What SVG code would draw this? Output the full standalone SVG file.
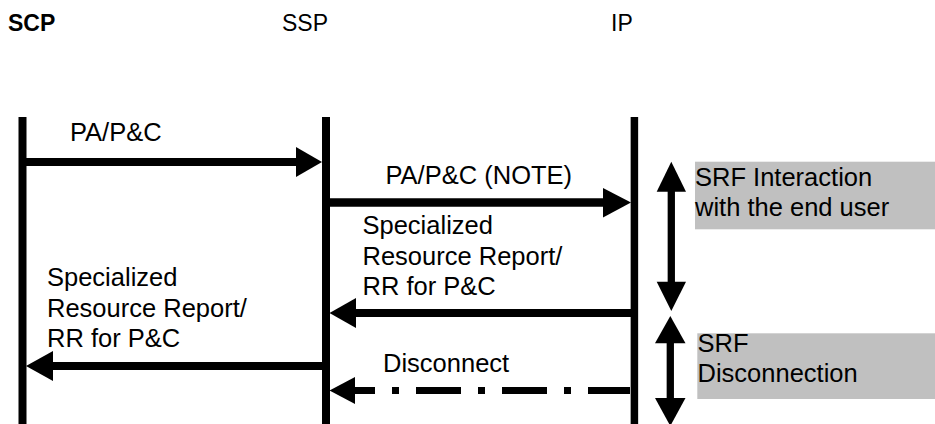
<svg xmlns="http://www.w3.org/2000/svg" width="935" height="424" viewBox="0 0 935 424">
  <style>
    .hdr { font-family: "Liberation Sans", Arial, sans-serif; font-size: 23px; fill: #000; }
    .bold { font-weight: bold; }
    .lbl { font-family: "Liberation Sans", Arial, sans-serif; font-size: 25.5px; fill: #000; }
    .life { stroke: #000; stroke-width: 8; fill: none; }
    .msg { stroke: #000; stroke-width: 8; fill: none; }
    .dash { stroke-dasharray: 45 17 7 17; stroke-dashoffset: 3; stroke-width: 7; }
    .head { fill: #000; stroke: none; }
    .box { fill: #c0c0c0; stroke: none; }
  </style>

  <!-- Entities with their lifelines -->
  <g id="scp">
    <text class="hdr bold" x="8" y="31">SCP</text>
    <line class="life" x1="22.5" y1="117" x2="22.5" y2="424"/>
  </g>
  <g id="ssp">
    <text class="hdr" x="282" y="31">SSP</text>
    <line class="life" x1="326" y1="117" x2="326" y2="424"/>
  </g>
  <g id="ip">
    <text class="hdr" x="611" y="31">IP</text>
    <line class="life" x1="634.4" y1="117" x2="634.4" y2="424" style="stroke-width:7.5"/>
  </g>

  <!-- Messages between the entities -->
  <g id="connectors">
    <!-- PA/P&C : SCP -> SSP -->
    <line class="msg" x1="26" y1="162" x2="298" y2="162"/>
    <polygon class="head" points="296,147 322,162 296,177"/>
    <text class="lbl" x="70" y="141">PA/P&amp;C</text>

    <!-- PA/P&C (NOTE) : SSP -> IP -->
    <line class="msg" x1="330" y1="202.5" x2="605" y2="202.5" style="stroke-width:8.5"/>
    <polygon class="head" points="603,188 631,202.5 603,217.5"/>
    <text class="lbl" x="385.5" y="184">PA/P&amp;C (NOTE)</text>

    <!-- Specialized Resource Report : IP -> SSP -->
    <line class="msg" x1="631" y1="313" x2="354" y2="313"/>
    <polygon class="head" points="356,298 329.5,313 356,328"/>
    <text class="lbl" x="362.5" y="233.5">Specialized</text>
    <text class="lbl" x="362.5" y="264.5">Resource Report/</text>
    <text class="lbl" x="362.5" y="295">RR for P&amp;C</text>

    <!-- Specialized Resource Report : SSP -> SCP -->
    <line class="msg" x1="322" y1="366" x2="51" y2="366"/>
    <polygon class="head" points="53,351 26,366 53,381"/>
    <text class="lbl" x="47" y="286">Specialized</text>
    <text class="lbl" x="47" y="316.5">Resource Report/</text>
    <text class="lbl" x="47" y="347">RR for P&amp;C</text>

    <!-- Disconnect : IP -> SSP (dash-dot) -->
    <line class="msg dash" x1="630" y1="390.5" x2="355" y2="390.5"/>
    <polygon class="head" points="355,377 329.5,390.5 355,404"/>
    <text class="lbl" x="383" y="372">Disconnect</text>
  </g>

  <!-- SRF phase annotations -->
  <g id="srf-interaction">
    <line stroke="#000" stroke-width="7.3" x1="671.3" y1="190" x2="671.3" y2="283"/>
    <polygon class="head" points="656.7,191.7 671.3,161.7 686,191.7"/>
    <polygon class="head" points="656.7,281.7 671.3,311 686,281.7"/>
    <rect class="box" x="695" y="161.7" width="240" height="67.6"/>
    <text class="lbl" x="695" y="186">SRF Interaction</text>
    <text class="lbl" x="695" y="216">with the end user</text>
  </g>
  <g id="srf-disconnection">
    <line stroke="#000" stroke-width="7.3" x1="670.3" y1="342" x2="670.3" y2="400"/>
    <polygon class="head" points="655,343.3 670.3,316 685.5,343.3"/>
    <polygon class="head" points="655,398 670.3,426 685.5,398"/>
    <rect class="box" x="697.3" y="333.3" width="237.7" height="65.7"/>
    <text class="lbl" x="697.5" y="351.7">SRF</text>
    <text class="lbl" x="697.5" y="381.7">Disconnection</text>
  </g>
</svg>
